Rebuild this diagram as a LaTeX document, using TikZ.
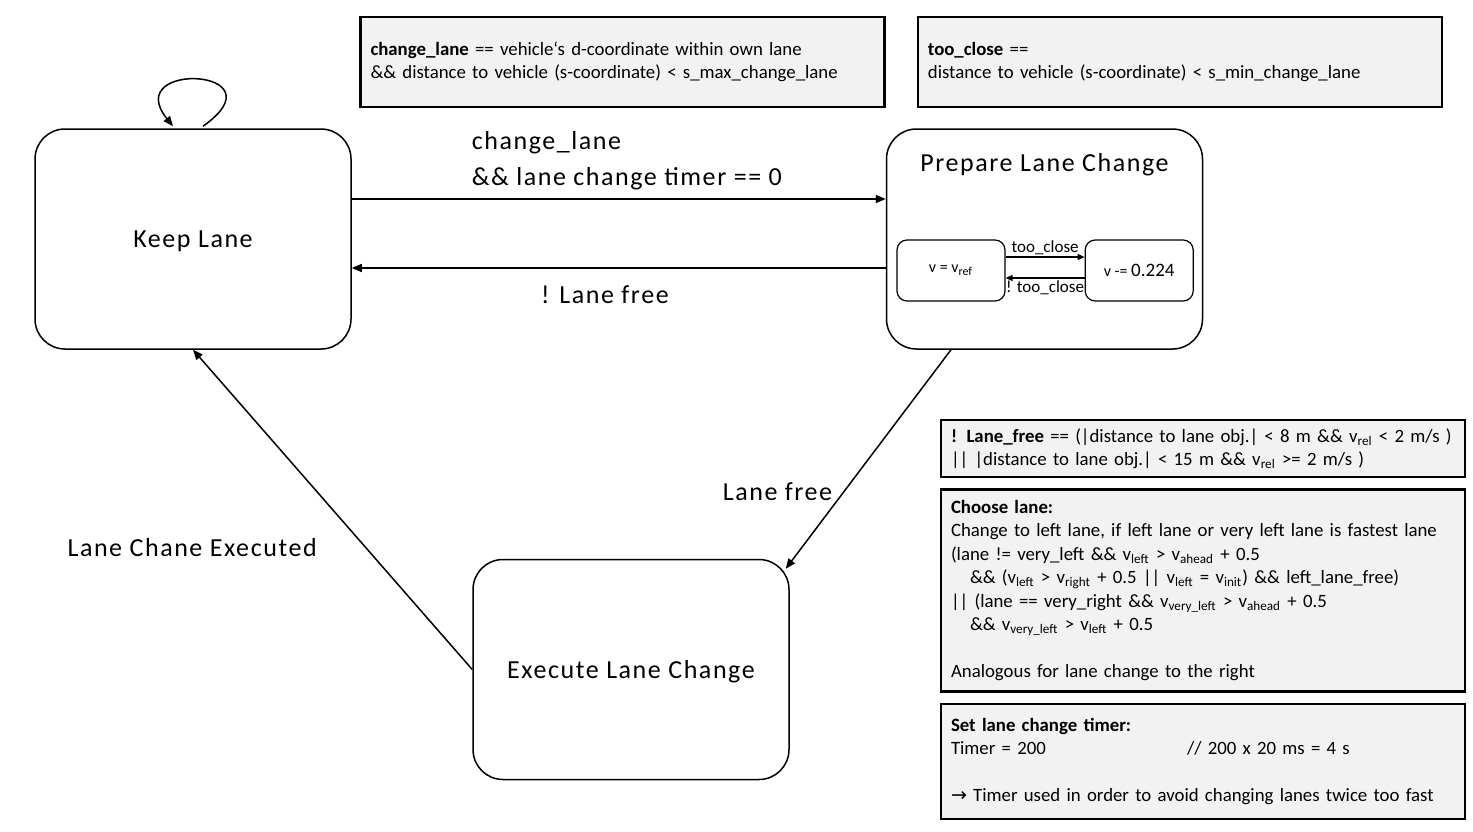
\documentclass[tikz,border=0pt]{standalone}
\usepackage{fontspec}
\setmainfont{Carlito}
\newfontfamily\widefont[LetterSpace=6]{Carlito}
\newfontfamily\symfont{DejaVu Sans}
\usetikzlibrary{arrows.meta,positioning}

\newcommand{\vsub}[1]{v\textsubscript{#1}}

\begin{document}
\begin{tikzpicture}[
		x=0.5pt, y=-0.5pt,
		node distance=6pt,
		state/.style={
			rectangle,
			draw,
			rounded corners=15pt,
			line width=0.75pt,
			minimum width=158pt,
			minimum height=110pt,
			inner sep=0pt,
			text depth=0pt,
			font=\widefont\fontsize{13}{16}\selectfont
		},
		substate/.style={
			rectangle,
			draw,
			rounded corners=5pt,
			line width=0.6pt,
			minimum width=54pt,
			minimum height=30.5pt,
			inner sep=0pt,
			font=\fontsize{8}{10}\selectfont
		},
		note/.style={
			rectangle,
			draw,
			fill=gray!10,
			line width=1.2pt,
			text width=252pt,
			align=left,
			inner xsep=5pt,
			inner ysep=6pt,
			font=\fontsize{9.4}{11.7}\selectfont
		},
		biglabel/.style={
			align=left,
			font=\widefont\fontsize{13}{18}\selectfont
		},
		smalllabel/.style={
			inner sep=1pt,
			font=\fontsize{8.5}{10}\selectfont
		},
		arrow/.style={
			-{Triangle[length=5pt,width=4pt]},
			line width=0.75pt
		},
		subarrow/.style={
			-{Triangle[length=3.5pt,width=3pt]},
			line width=0.6pt
		}
		]
		\useasboundingbox (0,0) rectangle (1473,831);
		
		% states
		\node[state] (keep) at (193,239) {Keep Lane};
		
		\node[state] (prepare) at (1044.5,239) {};
		
		\node[biglabel] (preparetitle) at ([yshift=-18pt]prepare.north)
		{Prepare Lane Change};
		
		\node[state] (execute) at (631,669.5) {Execute Lane Change};
		
		% states inside Prepare Lane Change
		\node[substate] (vref) at (951,270.5) {v = \vsub{ref}};
		
		\node[substate, right=39.5pt of vref] (vdec)
		{v -= {\fontsize{9.5}{11}\selectfont 0.224}};
		
		% definitions
		\node[note, minimum height=45pt] (changelanedef) at (622.5,62)
		{\textbf{change\_lane} == vehicle‘s d-coordinate within own lane\\
			\&\& distance to vehicle (s-coordinate) < s\_max\_change\_lane};
		
		\node[note, minimum height=45pt, right=15.5pt of changelanedef] (tooclosedef)
		{\textbf{too\_close} ==\\
			distance to vehicle (s-coordinate) < s\_min\_change\_lane};
		
		\node[note, minimum height=28.5pt, inner ysep=2.5pt] (lanefreedef) at (1203,448.5)
		{\textbf{! Lane\_free} == (|distance to lane obj.| < 8 m \&\& \vsub{rel} < 2 m/s )\\
			|| |distance to lane obj.| < 15 m \&\& \vsub{rel} >= 2 m/s )};
		
		\node[note, minimum height=101pt, inner ysep=3.5pt, below=5pt of lanefreedef] (choosedef)
		{\textbf{Choose lane:}\\
			Change to left lane, if left lane or very left lane is fastest lane\\
			(lane != very\_left \&\& \vsub{left} > \vsub{ahead} + 0.5\\
			\hspace*{9.5pt}\&\& (\vsub{left} > \vsub{right} + 0.5 || \vsub{left} = \vsub{init}) \&\& left\_lane\_free)\\
			|| (lane == very\_right \&\& \vsub{very\_left} > \vsub{ahead} + 0.5\\
			\hspace*{9.5pt}\&\& \vsub{very\_left} > \vsub{left} + 0.5\\
			~\\
			Analogous for lane change to the right};
		
		\node[note, minimum height=57.5pt, inner ysep=5pt, below=5pt of choosedef] (timerdef)
		{\textbf{Set lane change timer:}\\
			\makebox[118pt][l]{Timer = 200}// 200 x 20 ms = 4 s\\
			~\\
			{\symfont\fontsize{9.5}{11}\selectfont →} Timer used in order to avoid changing lanes twice too fast};
		
		% transitions
		\coordinate (loopstart) at ([xshift=5pt,yshift=1pt]keep.north);
		\coordinate (loopend) at ([xshift=-10pt,yshift=1pt]keep.north);
		\draw[arrow] (loopstart) .. controls +(82,-58) and +(-53,-66) .. (loopend);
		
		\draw[arrow]
		([yshift=20pt]keep.east)
		-- node[biglabel, anchor=south west, pos=0.211, yshift=1pt]
		{change\_lane\\\&\& lane change timer == 0}
		([yshift=20pt]prepare.west);
		
		\draw[arrow]
		([yshift=-14.5pt]prepare.west)
		-- node[biglabel, below=5pt, pos=0.526] {! Lane free}
		([yshift=-14.5pt]keep.east);
		
		\coordinate (exectarget) at ([xshift=-2pt,yshift=-5pt]execute.north east);
		\draw[arrow]
		([xshift=-46.75pt]prepare.south)
		-- node[biglabel, left=2pt, pos=0.65] {Lane free}
		(exectarget);
		
		\draw[arrow]
		(execute.west)
		-- node[biglabel, left=21pt, pos=0.38] {Lane Chane Executed}
		(keep.south);
		
		\draw[subarrow]
		([yshift=6.75pt]vref.east)
		-- node[smalllabel, above] {too\_close}
		([yshift=6.75pt]vdec.west);
		
		\draw[subarrow]
		([yshift=-3.75pt]vdec.west)
		-- node[smalllabel, below] {! too\_close}
		([yshift=-3.75pt]vref.east);
		
	\end{tikzpicture}
\end{document}
